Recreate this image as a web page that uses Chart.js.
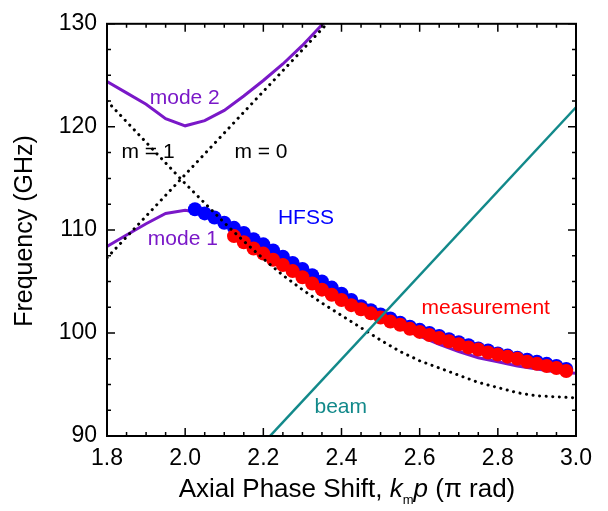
<!DOCTYPE html>
<html>
<head>
<meta charset="utf-8">
<script src="https://cdn.jsdelivr.net/npm/chart.js@4.4.1/dist/chart.umd.min.js"></script>
<style>
  html, body { margin: 0; padding: 0; background: #fff; }
  #caja { width: 608px; height: 511px; }
</style>
</head>
<body>
<div id="caja"><canvas id="grafico"></canvas></div>
<script>
// datos
const modo2X = [1.80, 1.85, 1.90, 1.95, 2.00, 2.05, 2.10, 2.15, 2.20, 2.25, 2.30, 2.35, 2.36];
const modo2Y = [124.4, 123.3, 122.2, 120.8, 120.1, 120.6, 121.6, 123.0, 124.5, 126.1, 127.9, 129.9, 130.4];

const modo1X = [1.80, 1.85, 1.90, 1.95, 2.00, 2.05, 2.10, 2.15, 2.20, 2.25, 2.30, 2.35, 2.40, 2.45, 2.50,
                2.55, 2.60, 2.65, 2.70, 2.75, 2.80, 2.85, 2.90, 2.95, 3.00];
const modo1Y = [108.4, 109.5, 110.6, 111.6, 111.9, 111.6, 110.7, 109.7, 108.6, 107.4, 106.2, 105.0, 103.8, 102.7, 101.6,
                100.5, 99.7, 98.9, 98.2, 97.6, 97.2, 96.8, 96.5, 96.2, 96.1];

const m1X = [1.80, 1.85, 1.90, 1.95, 2.00, 2.05, 2.10, 2.15, 2.20, 2.25, 2.30, 2.35, 2.40, 2.45, 2.50,
             2.55, 2.60, 2.65, 2.70, 2.75, 2.80, 2.85, 2.90, 2.95, 3.00];
const m1Y = [122.5, 120.5, 118.5, 116.5, 114.5, 112.6, 110.7, 108.9, 107.2, 105.6, 104.2, 102.9, 101.7, 100.5, 99.3,
             98.2, 97.3, 96.6, 95.9, 95.2, 94.7, 94.2, 93.9, 93.8, 93.7];

const m0X = [1.80, 2.38];
const m0Y = [107.3, 130.7];

const hazX = [2.20, 3.00];
const hazY = [89.3, 121.9];

const hfssX = [2.025, 2.050, 2.075, 2.100, 2.125, 2.150, 2.175, 2.200, 2.225, 2.250, 2.275, 2.300, 2.325,
               2.350, 2.375, 2.400, 2.425, 2.450, 2.475, 2.500, 2.525, 2.550, 2.575, 2.600, 2.625, 2.650,
               2.675, 2.700, 2.725, 2.750, 2.775, 2.800, 2.825, 2.850, 2.875, 2.900, 2.925, 2.950, 2.975];
const hfssY = [112.0, 111.6, 111.2, 110.7, 110.2, 109.7, 109.1, 108.6, 108.0, 107.4, 106.8, 106.2, 105.6,
               105.0, 104.4, 103.8, 103.2, 102.6, 102.2, 101.8, 101.4, 101.0, 100.6, 100.3, 100.0, 99.7,
               99.4, 99.1, 98.8, 98.5, 98.3, 98.0, 97.8, 97.6, 97.4, 97.2, 97.0, 96.8, 96.5];

const medX = [2.125, 2.150, 2.175, 2.200, 2.225, 2.250, 2.275, 2.300, 2.325, 2.350, 2.375, 2.400,
              2.425, 2.450, 2.475, 2.500, 2.525, 2.550, 2.575, 2.600, 2.625, 2.650, 2.675, 2.700,
              2.725, 2.750, 2.775, 2.800, 2.825, 2.850, 2.875, 2.900, 2.925, 2.950, 2.975];
const medY = [109.4, 108.8, 108.2, 107.7, 107.1, 106.6, 106.0, 105.4, 104.8, 104.2, 103.7, 103.2,
              102.7, 102.3, 101.9, 101.5, 101.1, 100.8, 100.4, 100.1, 99.8, 99.5, 99.2, 98.9,
              98.6, 98.4, 98.1, 97.9, 97.7, 97.5, 97.2, 97.0, 96.8, 96.6, 96.3];

const xTicks = [1.8, 2.0, 2.2, 2.4, 2.6, 2.8, 3.0];
const yTicks = [90, 100, 110, 120, 130];

const MORADO = '#7a18c8';
const VERDE = '#12898a';

const puntos = (xs, ys) => xs.map((x, i) => ({x: x, y: ys[i]}));

// etiquetas dentro del grafico
const etiquetas = [
    {texto: 'mode 2', x: 1.999, y: 122.75, color: MORADO},
    {texto: 'm = 1', x: 1.905, y: 117.5, color: '#000'},
    {texto: 'm = 0', x: 2.194, y: 117.5, color: '#000'},
    {texto: 'mode 1', x: 1.994, y: 109.1, color: MORADO},
    {texto: 'HFSS', x: 2.309, y: 111.1, color: '#0000ff'},
    {texto: 'measurement', x: 2.769, y: 102.4, color: '#ff0000'},
    {texto: 'beam', x: 2.398, y: 92.8, color: VERDE}
];

const decorado = {
    id: 'decorado',
    afterDatasetsDraw(chart) {
        const ctx = chart.ctx;
        const a = chart.chartArea;
        const sx = chart.scales.x, sy = chart.scales.y;
        ctx.save();
        // marco
        ctx.strokeStyle = '#000';
        ctx.lineWidth = 2;
        ctx.strokeRect(a.left, a.top, a.right - a.left, a.bottom - a.top);
        // marcas hacia adentro
        ctx.lineWidth = 1.5;
        ctx.beginPath();
        for (let i = 0; i <= 24; i++) {
            const px = sx.getPixelForValue(1.8 + i * 0.05);
            const l = i % 4 === 0 ? 8 : 4;
            ctx.moveTo(px, a.bottom); ctx.lineTo(px, a.bottom - l);
            ctx.moveTo(px, a.top); ctx.lineTo(px, a.top + l);
        }
        for (let i = 0; i <= 16; i++) {
            const py = sy.getPixelForValue(90 + i * 2.5);
            const l = i % 4 === 0 ? 8 : 4;
            ctx.moveTo(a.left, py); ctx.lineTo(a.left + l, py);
            ctx.moveTo(a.right, py); ctx.lineTo(a.right - l, py);
        }
        ctx.stroke();

        // textos
        ctx.font = '21px "Liberation Sans", Arial, sans-serif';
        ctx.textAlign = 'center';
        ctx.textBaseline = 'middle';
        etiquetas.forEach(e => {
            ctx.fillStyle = e.color;
            ctx.fillText(e.texto, sx.getPixelForValue(e.x), sy.getPixelForValue(e.y));
        });

        // titulo eje y
        ctx.fillStyle = '#000';
        ctx.font = '25px "Liberation Sans", Arial, sans-serif';
        ctx.save();
        ctx.translate(25, 231);
        ctx.rotate(-Math.PI / 2);
        ctx.fillText('Frequency (GHz)', 0, 0);
        ctx.restore();

        // titulo eje x con k italica y subindice m
        const partes = [
            {t: 'Axial Phase Shift, ', f: '26px', dy: 0},
            {t: 'k', f: 'italic 26px', dy: 0},
            {t: 'm', f: '13px', dy: 7},
            {t: 'p', f: 'italic 26px', dy: 0},
            {t: ' (\u03c0 rad)', f: '26px', dy: 0}
        ];
        const fam = ' "Liberation Sans", Arial, sans-serif';
        let total = 0;
        partes.forEach(p => { ctx.font = p.f + fam; p.w = ctx.measureText(p.t).width; total += p.w; });
        let cx = 347 - total / 2;
        ctx.textAlign = 'left';
        ctx.textBaseline = 'alphabetic';
        partes.forEach(p => {
            ctx.font = p.f + fam;
            ctx.fillText(p.t, cx, 497 + p.dy);
            cx += p.w;
        });
        ctx.restore();
    }
};

new Chart(document.querySelector('#grafico'), {
    type: 'scatter',
    data: {
        datasets: [
            {label: 'beam', data: puntos(hazX, hazY), showLine: true, borderColor: VERDE,
             borderWidth: 2.5, pointRadius: 0, order: 0},
            {label: 'm = 1', data: puntos(m1X, m1Y), showLine: true, borderColor: '#000',
             borderWidth: 3, borderDash: [0.1, 6.5], borderCapStyle: 'round', pointRadius: 0, order: 1},
            {label: 'm = 0', data: puntos(m0X, m0Y), showLine: true, borderColor: '#000',
             borderWidth: 3, borderDash: [0.1, 6.5], borderCapStyle: 'round', pointRadius: 0, order: 1},
            {label: 'measurement', data: puntos(medX, medY), backgroundColor: '#ff0000',
             borderWidth: 0, pointRadius: 7, order: 2},
            {label: 'HFSS', data: puntos(hfssX, hfssY), backgroundColor: '#0000ff',
             borderWidth: 0, pointRadius: 7, order: 3},
            {label: 'mode 1', data: puntos(modo1X, modo1Y), showLine: true, borderColor: MORADO,
             borderWidth: 3, pointRadius: 0, order: 4},
            {label: 'mode 2', data: puntos(modo2X, modo2Y), showLine: true, borderColor: MORADO,
             borderWidth: 3, pointRadius: 0, order: 4}
        ]
    },
    options: {
        responsive: true,
        maintainAspectRatio: false,
        animation: false,
        layout: {padding: {left: 20, right: 32, top: 22, bottom: 0}},
        plugins: {legend: {display: false}, tooltip: {enabled: false}},
        scales: {
            x: {
                type: 'linear', min: 1.8, max: 3.0,
                afterFit: s => { s.height = 75; },
                afterBuildTicks: s => { s.ticks = xTicks.map(v => ({value: v})); },
                grid: {display: false, drawTicks: false},
                border: {display: false},
                ticks: {color: '#000', padding: 9, font: {family: '"Liberation Sans", Arial', size: 23},
                        callback: v => v.toFixed(1)}
            },
            y: {
                type: 'linear', min: 90, max: 130,
                afterFit: s => { s.width = 87; },
                afterBuildTicks: s => { s.ticks = yTicks.map(v => ({value: v})); },
                grid: {display: false, drawTicks: false},
                border: {display: false},
                ticks: {color: '#000', padding: 10, font: {family: '"Liberation Sans", Arial', size: 23}}
            }
        }
    },
    plugins: [decorado]
});
</script>
</body>
</html>
